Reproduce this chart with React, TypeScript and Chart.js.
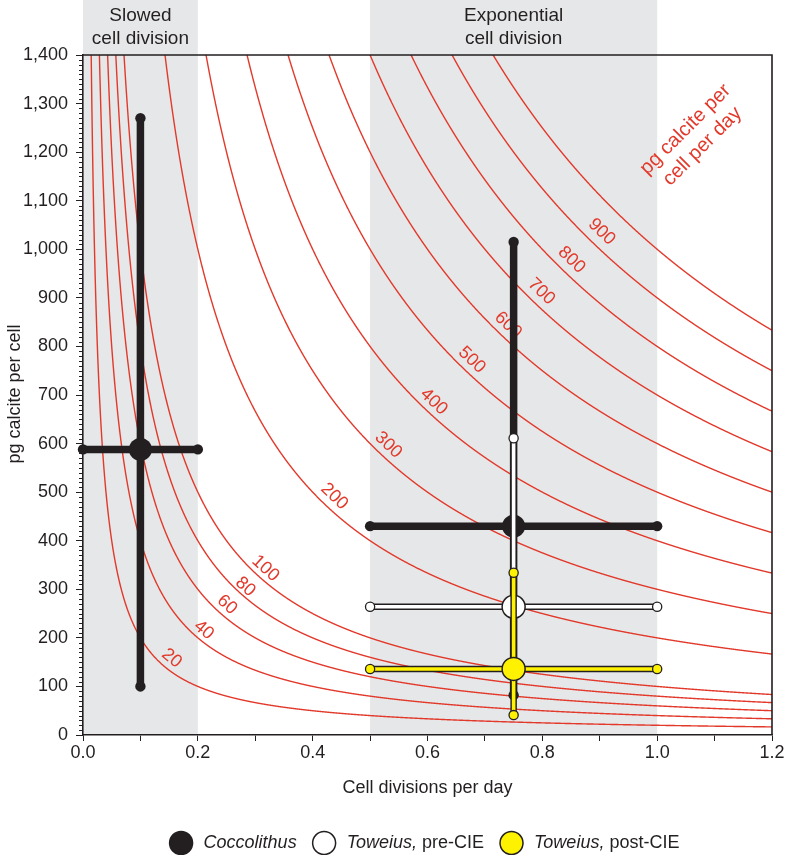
import React, { useEffect, useRef } from "react";
import { Chart, registerables } from "chart.js";

Chart.register(...registerables);

// ---- data ----
const curveLevels = [20, 40, 60, 80, 100, 200, 300, 400, 500, 600, 700, 800, 900, 1000];
const curveLabelLevels = [20, 40, 60, 80, 100, 200, 300, 400, 500, 600, 700, 800, 900];
const curveLabelX = [0.1545, 0.2103, 0.2507, 0.2827, 0.3177, 0.4376, 0.5317, 0.6108, 0.6773, 0.7402, 0.7984, 0.8509, 0.9033];
const curveLabelY = [158, 216, 268, 305, 343, 491, 597, 686, 772, 844, 913, 978, 1036];

const bandStart = [0.0, 0.5];
const bandEnd = [0.2, 1.0];
const bandLabels = [["Slowed", "cell division"], ["Exponential", "cell division"]];

const pointSeries = [0, 0, 1, 2]; // index into seriesNames
const seriesNames = ["Coccolithus", "Toweius, pre-CIE", "Toweius, post-CIE"];
const pointX = [0.1, 0.75, 0.75, 0.75];
const pointY = [588, 430, 264, 136];
const xLow = [0.0, 0.5, 0.5, 0.5];
const xHigh = [0.2, 1.0, 1.0, 1.0];
const yLow = [100, 82, 130, 41];
const yHigh = [1270, 1015, 611, 334];

const xTitle = "Cell divisions per day";
const yTitle = "pg calcite per cell";
const curveTitle = ["pg calcite per", "cell per day"];

// ---- styles ----
const DARK = "#231f20";
const RED = "#e2392b";
const BAND = "#e6e7e8";
const seriesFill = [DARK, "#ffffff", "#fff200"];
const FONT = "'Liberation Sans', Arial, Helvetica, sans-serif";

function fmtThousands(v: number) {
  const s = String(Math.round(v));
  return s.replace(/\B(?=(\d{3})+(?!\d))/g, ",");
}

const customPlugin = {
  id: "custom",
  beforeDraw(chart: any) {
    const { ctx, chartArea, scales } = chart;
    const xs = scales.x;
    ctx.save();
    ctx.fillStyle = "#ffffff";
    ctx.fillRect(0, 0, chart.width, chart.height);
    ctx.fillStyle = BAND;
    for (let i = 0; i < bandStart.length; i++) {
      const l = xs.getPixelForValue(bandStart[i]);
      const r = xs.getPixelForValue(bandEnd[i]);
      ctx.fillRect(l, 0, r - l, chartArea.bottom);
    }
    ctx.fillStyle = DARK;
    ctx.font = `19px ${FONT}`;
    ctx.textAlign = "center";
    ctx.textBaseline = "middle";
    for (let i = 0; i < bandStart.length; i++) {
      const c = xs.getPixelForValue((bandStart[i] + bandEnd[i]) / 2);
      ctx.fillText(bandLabels[i][0], c, 16);
      ctx.fillText(bandLabels[i][1], c, 39);
    }
    ctx.restore();
  },
  beforeDatasetsDraw(chart: any) {
    const { ctx, chartArea, scales } = chart;
    const xs = scales.x;
    const ys = scales.y;
    const { left, right, top, bottom } = chartArea;
    // curves
    ctx.save();
    ctx.beginPath();
    ctx.rect(left, top, right - left, bottom - top);
    ctx.clip();
    ctx.strokeStyle = RED;
    ctx.lineWidth = 1.4;
    for (const k of curveLevels) {
      ctx.beginPath();
      let started = false;
      for (let px = left; px <= right + 0.1; px += 0.25) {
        const xv = xs.getValueForPixel(px);
        if (xv <= 0) continue;
        const py = ys.getPixelForValue(k / xv);
        if (py < top - 60) { started = false; continue; }
        if (!started) { ctx.moveTo(px, py); started = true; } else ctx.lineTo(px, py);
      }
      ctx.stroke();
    }
    // curve labels, rotated to the tangent of the nearest curve point
    const pxPerX = xs.getPixelForValue(1) - xs.getPixelForValue(0);
    const pxPerY = ys.getPixelForValue(0) - ys.getPixelForValue(1);
    ctx.fillStyle = RED;
    ctx.font = `18px ${FONT}`;
    ctx.textAlign = "center";
    ctx.textBaseline = "middle";
    for (let i = 0; i < curveLabelLevels.length; i++) {
      const k = curveLabelLevels[i];
      const px = xs.getPixelForValue(curveLabelX[i]);
      const py = ys.getPixelForValue(curveLabelY[i]);
      let best = Infinity;
      let bestX = curveLabelX[i];
      for (let qx = px - 40; qx <= px + 40; qx += 0.25) {
        const xv = xs.getValueForPixel(qx);
        if (xv <= 0) continue;
        const qy = ys.getPixelForValue(k / xv);
        const d = (qx - px) ** 2 + (qy - py) ** 2;
        if (d < best) { best = d; bestX = xv; }
      }
      const slope = (k / (bestX * bestX)) * pxPerY / pxPerX;
      ctx.save();
      ctx.translate(px, py);
      ctx.rotate(Math.atan(slope));
      ctx.fillText(String(k), 0, 0);
      ctx.restore();
    }
    // curve family title
    ctx.save();
    ctx.font = `20px ${FONT}`;
    ctx.translate(694, 138);
    ctx.rotate(-Math.PI / 4);
    ctx.fillText(curveTitle[0], 0, -12);
    ctx.fillText(curveTitle[1], 0, 12);
    ctx.restore();
    ctx.restore();

    // frame top/right and minor y ticks
    ctx.save();
    ctx.strokeStyle = DARK;
    ctx.lineWidth = 1.6;
    ctx.beginPath();
    ctx.moveTo(left, top);
    ctx.lineTo(right, top);
    ctx.lineTo(right, bottom);
    ctx.stroke();
    ctx.lineWidth = 1;
    ctx.beginPath();
    for (let v = 10; v < 1400; v += 10) {
      if (v % 100 === 0) continue;
      const py = Math.round(ys.getPixelForValue(v)) + 0.5;
      ctx.moveTo(left - 4, py);
      ctx.lineTo(left, py);
    }
    ctx.stroke();
    ctx.restore();
  },
  afterDraw(chart: any) {
    const { ctx, chartArea } = chart;
    ctx.save();
    ctx.fillStyle = DARK;
    ctx.textBaseline = "middle";
    ctx.textAlign = "center";
    ctx.font = `18px ${FONT}`;
    const cx = (chartArea.left + chartArea.right) / 2;
    ctx.fillText(xTitle, cx, 788);
    ctx.save();
    ctx.translate(15, 394);
    ctx.rotate(-Math.PI / 2);
    ctx.fillText(yTitle, 0, 0);
    ctx.restore();

    // legend
    const r = 11.5;
    const gapCircleText = 11;
    const gapItems = 16;
    const italicFont = `italic 18px ${FONT}`;
    const normalFont = `18px ${FONT}`;
    const items = seriesNames.map((name) => {
      const idx = name.indexOf(",");
      const it = idx >= 0 ? name.slice(0, idx + 1) : name;
      const rest = idx >= 0 ? name.slice(idx + 1) : "";
      ctx.font = italicFont;
      const w1 = ctx.measureText(it).width;
      ctx.font = normalFont;
      const w2 = rest ? ctx.measureText(rest).width : 0;
      return { it, rest, w1, w2 };
    });
    let total = 0;
    items.forEach((o, i) => {
      total += 2 * r + gapCircleText + o.w1 + o.w2 + (i < items.length - 1 ? gapItems : 0);
    });
    let x0 = cx - total / 2 - 3;
    const ly = 843;
    ctx.textAlign = "left";
    items.forEach((o, i) => {
      ctx.beginPath();
      ctx.arc(x0 + r, ly, r, 0, Math.PI * 2);
      ctx.fillStyle = seriesFill[i];
      ctx.fill();
      ctx.lineWidth = 1.5;
      ctx.strokeStyle = DARK;
      ctx.stroke();
      let tx = x0 + 2 * r + gapCircleText;
      ctx.fillStyle = DARK;
      ctx.font = italicFont;
      ctx.fillText(o.it, tx, ly);
      tx += o.w1;
      if (o.rest) {
        ctx.font = normalFont;
        ctx.fillText(o.rest, tx, ly);
        tx += o.w2;
      }
      x0 = tx + gapItems;
    });
    ctx.restore();
  },
};

function buildDatasets() {
  const list: any[] = [];
  for (let i = 0; i < pointX.length; i++) {
    const s = pointSeries[i];
    const fill = seriesFill[s];
    const h = [{ x: xLow[i], y: pointY[i] }, { x: xHigh[i], y: pointY[i] }];
    const v = [{ x: pointX[i], y: yLow[i] }, { x: pointX[i], y: yHigh[i] }];
    const base = { showLine: true, clip: false, pointHoverRadius: 0 };
    if (s === 0) {
      for (const d of [h, v]) {
        list.push({
          ...base, data: d, borderColor: DARK, borderWidth: 7.5,
          pointRadius: 5.2, pointBackgroundColor: DARK, pointBorderColor: DARK, pointBorderWidth: 0,
        });
      }
    } else {
      for (const d of [h, v]) {
        list.push({
          ...base, data: d, borderColor: DARK, borderWidth: 6.5,
          pointRadius: 0,
        });
      }
      for (const d of [h, v]) {
        list.push({
          ...base, data: d, borderColor: fill, borderWidth: 3.6,
          pointRadius: 4.6, pointBackgroundColor: fill, pointBorderColor: DARK, pointBorderWidth: 1.3,
        });
      }
    }
    list.push({
      showLine: false, clip: false,
      data: [{ x: pointX[i], y: pointY[i] }],
      pointRadius: 11.5, pointBackgroundColor: fill, pointBorderColor: DARK,
      pointBorderWidth: s === 0 ? 0 : 1.5, pointHoverRadius: 11.5,
    });
  }
  const n = list.length;
  list.forEach((d, idx) => { d.order = n - idx; });
  return list;
}

export default function App() {
  const ref = useRef<HTMLCanvasElement | null>(null);
  useEffect(() => {
    document.body.style.margin = "0";
    Chart.defaults.font.family = FONT;
    const canvas = ref.current!;
    const chart = new Chart(canvas, {
      type: "scatter",
      data: { datasets: buildDatasets() },
      options: {
        responsive: false,
        animation: false,
        devicePixelRatio: 1,
        events: [],
        layout: { padding: { top: 55, right: 16, left: 0, bottom: 0 } },
        plugins: { legend: { display: false }, tooltip: { enabled: false } },
        scales: {
          x: {
            type: "linear",
            min: 0,
            max: 1.2,
            afterFit: (s: any) => { s.height = 120; },
            ticks: {
              stepSize: 0.1,
              autoSkip: false,
              maxRotation: 0,
              padding: 1,
              color: DARK,
              font: { size: 18, family: FONT },
              callback: (val: any) => {
                const t = Math.round(Number(val) * 10);
                return t % 2 === 0 ? (t / 10).toFixed(1) : "";
              },
            },
            grid: { drawOnChartArea: false, drawTicks: true, tickLength: 6, tickColor: DARK, tickWidth: 1 },
            border: { display: true, color: DARK, width: 1.6 },
          },
          y: {
            type: "linear",
            min: 0,
            max: 1400,
            afterFit: (s: any) => { s.width = 83; },
            ticks: {
              stepSize: 100,
              padding: 8,
              color: DARK,
              font: { size: 18, family: FONT },
              callback: (val: any) => fmtThousands(Number(val)),
            },
            grid: { drawOnChartArea: false, drawTicks: true, tickLength: 7, tickColor: DARK, tickWidth: 1 },
            border: { display: true, color: DARK, width: 1.6 },
          },
        },
      },
      plugins: [customPlugin],
    });
    return () => chart.destroy();
  }, []);
  return <canvas ref={ref} width={788} height={855} style={{ display: "block" }} />;
}
